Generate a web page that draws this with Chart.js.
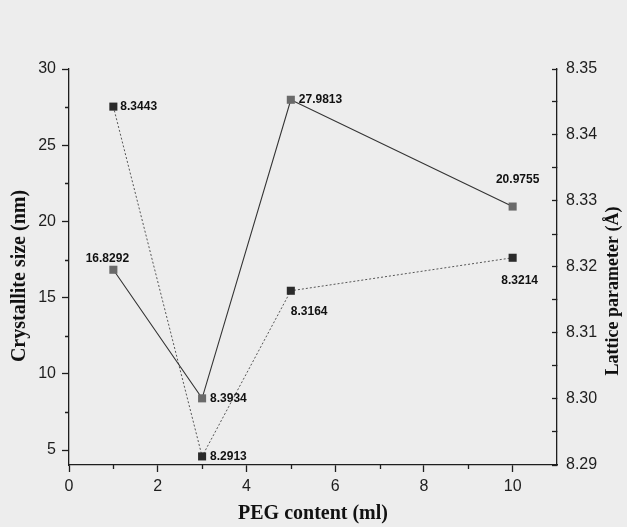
<!DOCTYPE html>
<html>
<head>
<meta charset="utf-8">
<script src="https://cdn.jsdelivr.net/npm/chart.js@4.4.1/dist/chart.umd.min.js"></script>
<style>
  html, body { margin: 0; padding: 0; background: #ededed; }
  canvas { display: block; }
</style>
</head>
<body>
<canvas id="chart" width="627" height="527"></canvas>
<script>
/* global Chart */

// data
const pegContent = [1, 3, 5, 10];
const crystalliteSize = [16.8292, 8.3934, 27.9813, 20.9755];
const latticeParam = [8.3443, 8.2913, 8.3164, 8.3214];

const xTicks = [0, 1, 2, 3, 4, 5, 6, 7, 8, 9, 10];
const sizeTicks = [5, 7.5, 10, 12.5, 15, 17.5, 20, 22.5, 25, 27.5, 30];
const latticeTicks = [8.29, 8.295, 8.30, 8.305, 8.31, 8.315, 8.32, 8.325, 8.33, 8.335, 8.34, 8.345, 8.35];

// where each value label sits relative to its point
const sizeLabelPos = [
  { dx: -6, dy: -11, align: "center" },
  { dx: 8, dy: 0, align: "left" },
  { dx: 8, dy: 0, align: "left" },
  { dx: 5, dy: -27, align: "center" },
];
const latticeLabelPos = [
  { dx: 7, dy: 0, align: "left" },
  { dx: 8, dy: 0, align: "left" },
  { dx: 0, dy: 21, align: "left" },
  { dx: 7, dy: 23, align: "center" },
];

const INK = "#1e1e1e";
const SERIF = "'Liberation Serif', 'Times New Roman', serif";
const tickFont = { family: "'Liberation Sans', Arial, sans-serif", size: 16 };
const titleFont = { family: SERIF, size: 20, weight: "bold" };

const isMajorX = (v) => v % 2 === 0;
const isMajorSize = (v) => v % 5 === 0;

const valueLabels = {
  id: "valueLabels",
  afterDatasetsDraw(chart) {
    const ctx = chart.ctx;
    ctx.save();
    ctx.font = "bold 12px 'Liberation Sans', Arial, sans-serif";
    ctx.fillStyle = "#111";
    ctx.textBaseline = "middle";
    const sets = [
      { idx: 0, vals: crystalliteSize, pos: sizeLabelPos },
      { idx: 1, vals: latticeParam, pos: latticeLabelPos },
    ];
    for (const s of sets) {
      const meta = chart.getDatasetMeta(s.idx);
      meta.data.forEach((pt, i) => {
        const p = s.pos[i];
        ctx.textAlign = p.align;
        ctx.fillText(s.vals[i].toFixed(4), pt.x + p.dx, pt.y + p.dy);
      });
    }
    ctx.restore();
  },
};

// shorter minor ticks on the left and bottom axes, plus the y titles
const axisExtras = {
  id: "axisExtras",
  afterDraw(chart) {
    const ctx = chart.ctx;
    const xs = chart.scales.x;
    const ys = chart.scales.y;
    const area = chart.chartArea;
    const mid = (area.top + area.bottom) / 2;
    ctx.save();
    ctx.strokeStyle = INK;
    ctx.lineWidth = 1.3;
    ctx.beginPath();
    for (const v of xTicks) {
      if (isMajorX(v)) continue;
      const px = Math.round(xs.getPixelForValue(v)) + 0.5;
      ctx.moveTo(px, xs.top);
      ctx.lineTo(px, xs.top + 4);
    }
    for (const v of sizeTicks) {
      if (isMajorSize(v)) continue;
      const py = Math.round(ys.getPixelForValue(v)) + 0.5;
      ctx.moveTo(ys.right, py);
      ctx.lineTo(ys.right - 4, py);
    }
    ctx.stroke();

    ctx.fillStyle = "#111";
    ctx.textAlign = "center";
    ctx.textBaseline = "middle";

    ctx.save();
    ctx.translate(20, mid + 9);
    ctx.rotate(-Math.PI / 2);
    ctx.font = `bold 20px ${SERIF}`;
    ctx.fillText("Crystallite size (nm)", 0, 0);
    ctx.restore();

    ctx.translate(chart.width - 14, mid + 24);
    ctx.rotate(-Math.PI / 2);
    ctx.font = `bold 18px ${SERIF}`;
    ctx.fillText("Lattice parameter (\u00C5)", 0, 0);
    ctx.restore();
  },
};

const ctx = document.getElementById("chart").getContext("2d");
new Chart(ctx, {
  type: "line",
  data: {
    datasets: [
      {
        label: "Crystallite size",
        data: pegContent.map((x, i) => ({ x, y: crystalliteSize[i] })),
        yAxisID: "y",
        borderColor: "#333",
        borderWidth: 1.1,
        pointStyle: "rect",
        pointRadius: 5.7,
        pointBackgroundColor: "#6a6a6a",
        pointBorderColor: "#6a6a6a",
        pointBorderWidth: 0,
        tension: 0,
      },
      {
        label: "Lattice parameter",
        data: pegContent.map((x, i) => ({ x, y: latticeParam[i] })),
        yAxisID: "y1",
        borderColor: "#555",
        borderWidth: 1,
        borderDash: [2, 2],
        pointStyle: "rect",
        pointRadius: 5.7,
        pointBackgroundColor: "#2b2b2b",
        pointBorderColor: "#2b2b2b",
        pointBorderWidth: 0,
        tension: 0,
      },
    ],
  },
  options: {
    responsive: false,
    animation: false,
    layout: { padding: { top: 69, left: 0, right: 0, bottom: 0 } },
    plugins: { legend: { display: false }, tooltip: { enabled: false } },
    scales: {
      x: {
        type: "linear",
        min: 0,
        max: 11,
        afterBuildTicks: (s) => { s.ticks = xTicks.map((v) => ({ value: v })); },
        afterFit: (s) => { s.height = 62; },
        ticks: {
          autoSkip: false,
          maxRotation: 0,
          padding: 5,
          color: INK,
          font: tickFont,
          callback: (v) => (isMajorX(v) ? String(v) : ""),
        },
        grid: {
          drawOnChartArea: false,
          tickLength: 7,
          tickWidth: 1.3,
          tickColor: (c) => (c.tick && isMajorX(c.tick.value) ? INK : "rgba(0,0,0,0)"),
        },
        border: { color: INK, width: 1.3 },
        title: { display: true, text: "PEG content (ml)", color: "#111", font: titleFont, padding: { top: 0, bottom: 1 } },
      },
      y: {
        type: "linear",
        position: "left",
        min: 4.02,
        max: 30,
        afterBuildTicks: (s) => { s.ticks = sizeTicks.map((v) => ({ value: v })); },
        afterFit: (s) => { s.width = 69; },
        ticks: {
          padding: 6,
          color: INK,
          font: tickFont,
          callback: (v) => (isMajorSize(v) ? String(v) : ""),
        },
        grid: {
          drawOnChartArea: false,
          tickLength: 7,
          tickWidth: 1.3,
          tickColor: (c) => (c.tick && isMajorSize(c.tick.value) ? INK : "rgba(0,0,0,0)"),
        },
        border: { color: INK, width: 1.3 },
      },
      y1: {
        type: "linear",
        position: "right",
        min: 8.29,
        max: 8.35,
        afterBuildTicks: (s) => { s.ticks = latticeTicks.map((v) => ({ value: v })); },
        afterFit: (s) => { s.width = 70; },
        ticks: {
          padding: 14,
          color: INK,
          font: tickFont,
          callback: (v) => (Math.round(v * 1000) % 10 === 0 ? v.toFixed(2) : ""),
        },
        grid: {
          drawOnChartArea: false,
          tickLength: -5,
          tickWidth: 1.3,
          tickColor: INK,
        },
        border: { color: INK, width: 1.3 },
      },
    },
  },
  plugins: [valueLabels, axisExtras],
});
</script>
</body>
</html>
